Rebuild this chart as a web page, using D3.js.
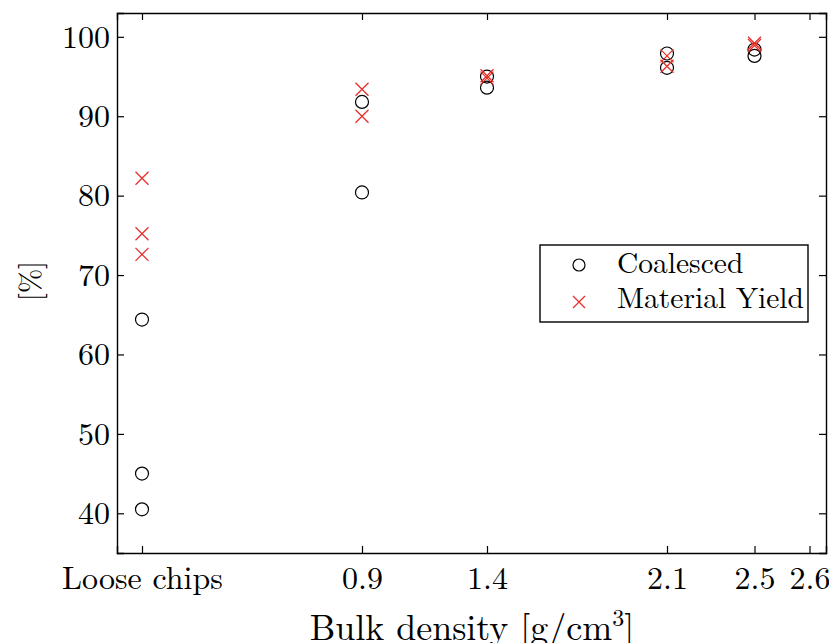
<!DOCTYPE html>
<meta charset="utf-8">
<style>
  body { margin: 0; background: #fff; }
  svg text { font-family: 'Latin Modern Roman', 'Liberation Serif', serif; fill: #000; }
</style>
<body>
<div id="chart"></div>
<script src="https://cdn.jsdelivr.net/npm/d3@7"></script>
<script>
  // tick positions (where the measured densities sit) and their labels
  var tickVals = [0.02, 0.9, 1.4, 2.12, 2.47, 2.69];
  var tickLabels = ["Loose chips", "0.9", "1.4", "2.1", "2.5", "2.6"];
  var yTicks = [40, 50, 60, 70, 80, 90, 100];

  // series
  var coalescedX = [0.02, 0.02, 0.02, 0.9, 0.9, 1.4, 1.4, 2.12, 2.12, 2.47, 2.47];
  var coalescedY = [64.4, 45.0, 40.5, 91.8, 80.4, 95.0, 93.6, 97.9, 96.1, 98.4, 97.6];
  var yieldX = [0.02, 0.02, 0.02, 0.9, 0.9, 1.4, 1.4, 2.12, 2.12, 2.47, 2.47];
  var yieldY = [82.2, 75.2, 72.6, 93.4, 90.0, 95.1, 94.8, 97.6, 96.3, 99.2, 98.9];

  var W = 829, H = 643;
  var m = { left: 117, right: 3, top: 13, bottom: 90 };
  var tickFs = 32, legFs = 29.5, titleFs = 36;

  var svg = d3.select("#chart").append("svg")
    .attr("width", W).attr("height", H);

  var x = d3.scaleLinear().domain([-0.08, 2.756]).range([m.left, W - m.right]);
  var y = d3.scaleLinear().domain([35, 103]).range([H - m.bottom, m.top]);

  var red = "#e8302b";
  var tk = 7;

  // frame + inward ticks on all four sides
  svg.append("g")
    .attr("transform", "translate(0," + y(35) + ")")
    .call(d3.axisBottom(x).tickValues(tickVals).tickSize(-tk).tickPadding(13)
      .tickFormat(function (d, i) { return tickLabels[i]; }));
  svg.append("g")
    .attr("transform", "translate(0," + y(103) + ")")
    .call(d3.axisTop(x).tickValues(tickVals).tickSize(-tk).tickFormat(""));
  svg.append("g")
    .attr("transform", "translate(" + x(-0.08) + ",0)")
    .call(d3.axisLeft(y).tickValues(yTicks).tickSize(-tk).tickPadding(7));
  svg.append("g")
    .attr("transform", "translate(" + x(2.756) + ",0)")
    .call(d3.axisRight(y).tickValues(yTicks).tickSize(-tk).tickFormat(""));

  svg.selectAll(".domain").attr("stroke", "#000").attr("stroke-width", 1.4);
  svg.selectAll(".tick line").attr("stroke", "#000").attr("stroke-width", 1.2);
  svg.selectAll(".tick text").attr("fill", "#000").style("font-size", tickFs + "px");

  // axis titles
  var xt = svg.append("text")
    .attr("x", 472).attr("y", 640)
    .attr("text-anchor", "middle").style("font-size", titleFs + "px");
  xt.append("tspan").text("Bulk density [g/cm");
  xt.append("tspan").style("font-size", "24px").attr("dy", -14).text("3");
  xt.append("tspan").attr("dy", 14).text("]");

  svg.append("text")
    .attr("transform", "translate(40,281) rotate(-90)")
    .attr("text-anchor", "middle").style("font-size", "29px")
    .text("[%]");

  // markers
  var r = 6.5;
  svg.append("g").selectAll("circle")
    .data(coalescedY)
    .join("circle")
    .attr("cx", function (d, i) { return x(coalescedX[i]); })
    .attr("cy", function (d) { return y(d); })
    .attr("r", r)
    .attr("fill", "none").attr("stroke", "#000").attr("stroke-width", 1.2);

  function cross(px, py, s) {
    return "M" + (px - s) + "," + (py - s) + "L" + (px + s) + "," + (py + s) +
      "M" + (px - s) + "," + (py + s) + "L" + (px + s) + "," + (py - s);
  }
  svg.append("g").selectAll("path")
    .data(yieldY)
    .join("path")
    .attr("d", function (d, i) { return cross(x(yieldX[i]), y(d), r); })
    .attr("fill", "none").attr("stroke", red).attr("stroke-width", 1.3);

  // legend
  var lg = svg.append("g");
  lg.append("rect")
    .attr("x", 540).attr("y", 245).attr("width", 268).attr("height", 77)
    .attr("fill", "#fff").attr("stroke", "#000").attr("stroke-width", 1.4);
  lg.append("circle").attr("cx", 579).attr("cy", 265).attr("r", 6)
    .attr("fill", "none").attr("stroke", "#000").attr("stroke-width", 1.2);
  lg.append("path").attr("d", cross(579, 302, 6))
    .attr("fill", "none").attr("stroke", red).attr("stroke-width", 1.3);
  lg.append("text").attr("x", 617).attr("y", 273).style("font-size", legFs + "px").text("Coalesced");
  lg.append("text").attr("x", 617).attr("y", 308).style("font-size", legFs + "px").text("Material Yield");
</script>
</body>
